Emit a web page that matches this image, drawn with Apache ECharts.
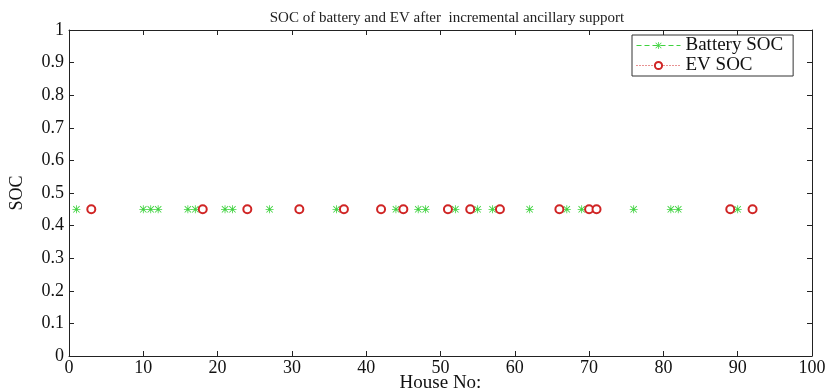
<!DOCTYPE html>
<html>
<head>
<meta charset="utf-8">
<script src="https://cdn.jsdelivr.net/npm/echarts@6/dist/echarts.min.js"></script>
<style>
  html, body { margin: 0; padding: 0; background: #fff; }
  #chart { width: 831px; height: 392px; }
</style>
</head>
<body>
<div id="chart"></div>
<script>
// house numbers carrying a marker, all at SOC 0.45
const batteryHouses = [1, 10, 11, 12, 16, 17, 21, 22, 27, 36, 44, 47, 48, 51, 52, 54, 55, 57, 62, 67, 69, 76, 81, 82, 90, 92];
const batterySoc = batteryHouses.map(() => 0.45);
const evHouses = [3, 18, 24, 31, 37, 42, 45, 51, 54, 58, 66, 70, 71, 89, 92];
const evSoc = evHouses.map(() => 0.45);

const serif = "'Liberation Serif', 'DejaVu Serif', serif";
const axisColor = "#222";
// matlab style asterisk marker
const asterisk = "path://M9 0L11 0L11 20L9 20Z M0 9L20 9L20 11L0 11Z M1.4 2.8L2.8 1.4L18.6 17.2L17.2 18.6Z M17.2 1.4L18.6 2.8L2.8 18.6L1.4 17.2Z";

let chart = echarts.init(document.getElementById("chart"));
let boxAxis = {
    axisLine: { show: true, onZero: false, lineStyle: { color: axisColor, width: 1 } },
    axisTick: { show: true, inside: true, length: 5, lineStyle: { color: axisColor } },
    splitLine: { show: false },
};
let option = {
    animation: false,
    backgroundColor: "#fff",
    title: {
        text: "SOC of battery and EV after  incremental ancillary support",
        left: 442,
        textAlign: "center",
        top: 6,
        textStyle: { fontFamily: serif, fontSize: 15, fontWeight: "normal", color: "#222" },
    },
    legend: {
        orient: "vertical",
        left: 632,
        top: 35,
        padding: [1, 10, 1, 4],
        borderColor: "#333",
        borderWidth: 1,
        backgroundColor: "#fff",
        itemWidth: 44,
        itemHeight: 9,
        itemGap: 1,
        textStyle: { fontFamily: serif, fontSize: 19, color: "#111", lineHeight: 13 },
        data: [
            { name: "Battery SOC", lineStyle: { width: 1, type: [5, 3], opacity: 1, color: "#3fd23f" } },
            { name: "EV SOC", lineStyle: { width: 1, type: [1, 2], opacity: 1, color: "#d02525" } },
        ],
    },
    grid: { left: 69, right: 19, top: 30, bottom: 36, containLabel: false, outerBoundsMode: "none" },
    xAxis: [
        Object.assign({}, boxAxis, {
            type: "value",
            min: 0,
            max: 100,
            interval: 10,
            name: "House No:",
            nameLocation: "middle",
            nameGap: 18,
            nameMoveOverlap: false,
            nameTextStyle: { fontFamily: serif, fontSize: 19, color: "#111" },
            axisLabel: { fontFamily: serif, fontSize: 18, color: "#111", margin: 3 },
        }),
        Object.assign({}, boxAxis, {
            type: "value",
            position: "top",
            min: 0,
            max: 100,
            interval: 10,
            axisLabel: { show: false },
        }),
    ],
    yAxis: [
        Object.assign({}, boxAxis, {
            type: "value",
            min: 0,
            max: 1,
            interval: 0.1,
            name: "SOC",
            nameLocation: "middle",
            nameGap: 43,
            nameMoveOverlap: false,
            nameTextStyle: { fontFamily: serif, fontSize: 18, color: "#111" },
            axisLabel: { fontFamily: serif, fontSize: 18, color: "#111", margin: 5 },
        }),
        Object.assign({}, boxAxis, {
            type: "value",
            position: "right",
            min: 0,
            max: 1,
            interval: 0.1,
            axisLabel: { show: false },
        }),
    ],
    series: [
        {
            name: "Battery SOC",
            type: "line",
            data: batteryHouses.map((h, i) => [h, batterySoc[i]]),
            symbol: asterisk,
            symbolSize: 8,
            showAllSymbol: true,
            lineStyle: { opacity: 0 },
            itemStyle: { color: "#3fd23f" },
            z: 2,
        },
        {
            name: "EV SOC",
            type: "line",
            data: evHouses.map((h, i) => [h, evSoc[i]]),
            symbol: "emptyCircle",
            symbolSize: 8,
            showAllSymbol: true,
            lineStyle: { opacity: 0 },
            itemStyle: { color: "#d02525", borderWidth: 2 },
            z: 3,
        },
    ],
};
chart.setOption(option);
</script>
</body>
</html>
